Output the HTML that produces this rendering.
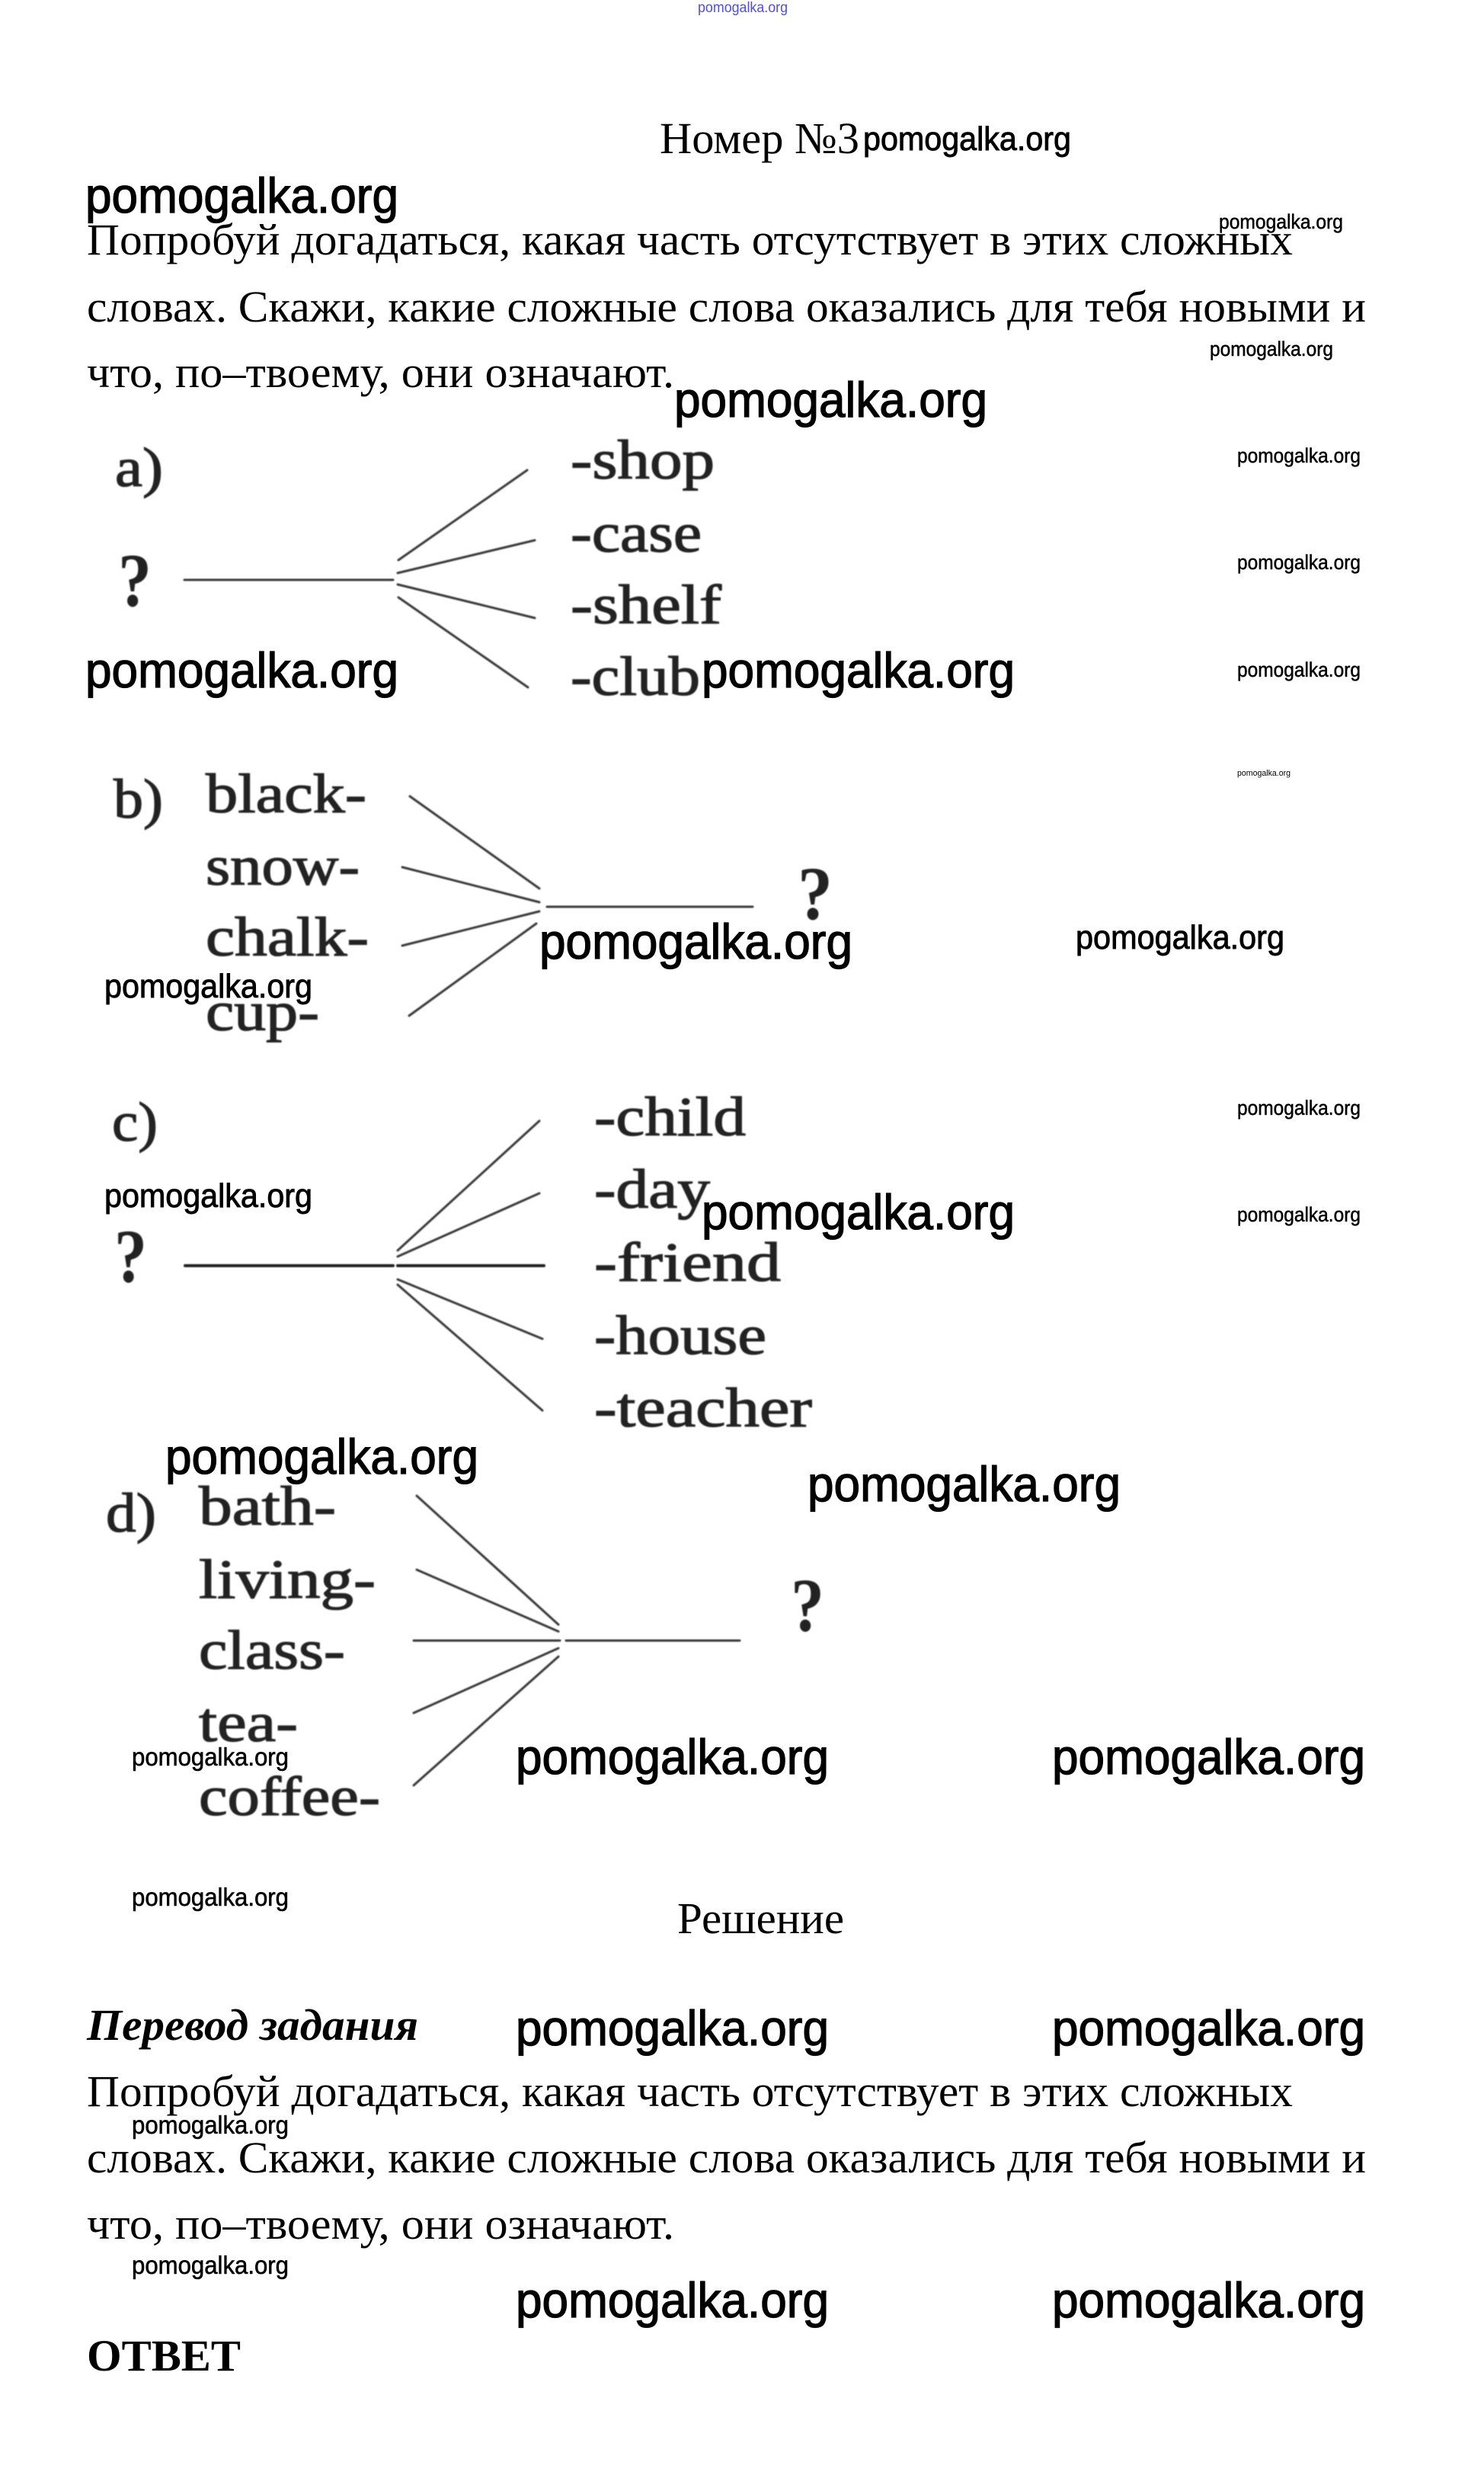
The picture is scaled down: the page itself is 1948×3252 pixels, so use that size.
<!DOCTYPE html>
<html lang="ru">
<head>
<meta charset="utf-8">
<title>Номер №3</title>
<style>
html,body{margin:0;padding:0;background:#fff;width:1948px;height:3252px;overflow:hidden}
svg{display:block}
.s{font-family:"Liberation Serif",serif;font-size:58px;fill:#000}
.w{font-family:"Liberation Sans",sans-serif;fill:#000;stroke:#000}
.b{font-size:65px;stroke-width:1.3}
.m{font-size:44px;stroke-width:.9}
.t{font-size:26.5px;stroke-width:.5}
.u{font-size:33px;stroke-width:.6}
.d{font-family:"Liberation Serif",serif;font-size:73px;fill:#222;stroke:#222;stroke-width:1.3}
.q{font-family:"Liberation Serif",serif;font-size:100px;font-weight:700;fill:#222}
.l line{stroke:#3a3a3a;stroke-width:3;stroke-linecap:round}
</style>
</head>
<body>
<svg xmlns="http://www.w3.org/2000/svg" width="1948" height="3252" viewBox="0 0 1948 3252">
<defs><filter id="f" x="-5%" y="-5%" width="110%" height="110%"><feGaussianBlur stdDeviation="0.8"/></filter></defs>
<rect width="1948" height="3252" fill="#fff"/>

<text x="916" y="16" font-family="Liberation Sans, sans-serif" font-size="19" fill="#5050d8" textLength="118" lengthAdjust="spacingAndGlyphs">pomogalka.org</text>

<g class="s">
<text x="866" y="201" textLength="262" lengthAdjust="spacingAndGlyphs">Номер №3</text>
<text x="114" y="334" textLength="1583" lengthAdjust="spacingAndGlyphs">Попробуй догадаться, какая часть отсутствует в этих сложных</text>
<text x="114" y="422" textLength="1679" lengthAdjust="spacingAndGlyphs">словах. Скажи, какие сложные слова оказались для тебя новыми и</text>
<text x="114" y="508" textLength="771" lengthAdjust="spacingAndGlyphs">что, по–твоему, они означают.</text>
<text x="889" y="2537" textLength="219" lengthAdjust="spacingAndGlyphs">Решение</text>
<text x="114" y="2677" textLength="435" lengthAdjust="spacingAndGlyphs" font-weight="700" font-style="italic">Перевод задания</text>
<text x="114" y="2764" textLength="1583" lengthAdjust="spacingAndGlyphs">Попробуй догадаться, какая часть отсутствует в этих сложных</text>
<text x="114" y="2851" textLength="1679" lengthAdjust="spacingAndGlyphs">словах. Скажи, какие сложные слова оказались для тебя новыми и</text>
<text x="114" y="2938" textLength="771" lengthAdjust="spacingAndGlyphs">что, по–твоему, они означают.</text>
<text x="114" y="3111" textLength="202" lengthAdjust="spacingAndGlyphs" font-weight="700">ОТВЕТ</text>
</g>

<g filter="url(#f)">
<g class="l">
<line x1="242" y1="761" x2="516" y2="761"/>
<line x1="523" y1="735" x2="692" y2="617"/>
<line x1="522" y1="752" x2="702" y2="709"/>
<line x1="522" y1="767" x2="702" y2="811"/>
<line x1="523" y1="784" x2="693" y2="902"/>

<line x1="538" y1="1045" x2="708" y2="1166"/>
<line x1="528" y1="1138" x2="708" y2="1184"/>
<line x1="528" y1="1241" x2="708" y2="1196"/>
<line x1="537" y1="1333" x2="704" y2="1212"/>
<line x1="718" y1="1190" x2="988" y2="1190"/>

<line x1="243" y1="1661" x2="516" y2="1661" style="stroke:#222;stroke-width:4"/>
<line x1="522" y1="1661" x2="714" y2="1661" style="stroke:#222;stroke-width:4"/>
<line x1="522" y1="1641" x2="708" y2="1471"/>
<line x1="522" y1="1649" x2="708" y2="1566"/>
<line x1="522" y1="1679" x2="712" y2="1757"/>
<line x1="522" y1="1686" x2="712" y2="1851"/>

<line x1="547" y1="1963" x2="733" y2="2132"/>
<line x1="547" y1="2060" x2="733" y2="2141"/>
<line x1="543" y1="2153" x2="735" y2="2153"/>
<line x1="543" y1="2248" x2="733" y2="2163"/>
<line x1="543" y1="2343" x2="733" y2="2174"/>
<line x1="743" y1="2153" x2="971" y2="2153"/>
</g>

<g class="d">
<text x="151" y="638" textLength="63" lengthAdjust="spacingAndGlyphs">a)</text>
<text x="749" y="628" textLength="189" lengthAdjust="spacingAndGlyphs">-shop</text>
<text x="749" y="724" textLength="172" lengthAdjust="spacingAndGlyphs">-case</text>
<text x="749" y="818" textLength="198" lengthAdjust="spacingAndGlyphs">-shelf</text>
<text x="749" y="912" textLength="170" lengthAdjust="spacingAndGlyphs">-club</text>

<text x="149" y="1073" textLength="65" lengthAdjust="spacingAndGlyphs">b)</text>
<text x="270" y="1066" textLength="211" lengthAdjust="spacingAndGlyphs">black-</text>
<text x="270" y="1161" textLength="202" lengthAdjust="spacingAndGlyphs">snow-</text>
<text x="270" y="1254" textLength="214" lengthAdjust="spacingAndGlyphs">chalk-</text>
<text x="270" y="1352" textLength="149" lengthAdjust="spacingAndGlyphs">cup-</text>

<text x="147" y="1497" textLength="60" lengthAdjust="spacingAndGlyphs">c)</text>
<text x="780" y="1490" textLength="199" lengthAdjust="spacingAndGlyphs">-child</text>
<text x="780" y="1585" textLength="152" lengthAdjust="spacingAndGlyphs">-day</text>
<text x="780" y="1681" textLength="245" lengthAdjust="spacingAndGlyphs">-friend</text>
<text x="780" y="1777" textLength="226" lengthAdjust="spacingAndGlyphs">-house</text>
<text x="780" y="1872" textLength="286" lengthAdjust="spacingAndGlyphs">-teacher</text>

<text x="139" y="2010" textLength="66" lengthAdjust="spacingAndGlyphs">d)</text>
<text x="261" y="2001" textLength="180" lengthAdjust="spacingAndGlyphs">bath-</text>
<text x="261" y="2097" textLength="232" lengthAdjust="spacingAndGlyphs">living-</text>
<text x="261" y="2190" textLength="192" lengthAdjust="spacingAndGlyphs">class-</text>
<text x="261" y="2285" textLength="130" lengthAdjust="spacingAndGlyphs">tea-</text>
<text x="261" y="2382" textLength="238" lengthAdjust="spacingAndGlyphs">coffee-</text>
</g>

<g class="q">
<text x="155" y="795" textLength="44" lengthAdjust="spacingAndGlyphs">?</text>
<text x="1047" y="1206" textLength="46" lengthAdjust="spacingAndGlyphs">?</text>
<text x="150" y="1682" textLength="43" lengthAdjust="spacingAndGlyphs">?</text>
<text x="1038" y="2140" textLength="44" lengthAdjust="spacingAndGlyphs">?</text>
</g>
</g>

<g class="w b">
<text x="112" y="279" textLength="411" lengthAdjust="spacingAndGlyphs">pomogalka.org</text>
<text x="885" y="547" textLength="411" lengthAdjust="spacingAndGlyphs">pomogalka.org</text>
<text x="112" y="902" textLength="411" lengthAdjust="spacingAndGlyphs">pomogalka.org</text>
<text x="921" y="902" textLength="411" lengthAdjust="spacingAndGlyphs">pomogalka.org</text>
<text x="708" y="1258" textLength="411" lengthAdjust="spacingAndGlyphs">pomogalka.org</text>
<text x="921" y="1613" textLength="411" lengthAdjust="spacingAndGlyphs">pomogalka.org</text>
<text x="217" y="1934" textLength="411" lengthAdjust="spacingAndGlyphs">pomogalka.org</text>
<text x="1060" y="1970" textLength="411" lengthAdjust="spacingAndGlyphs">pomogalka.org</text>
<text x="677" y="2328" textLength="411" lengthAdjust="spacingAndGlyphs">pomogalka.org</text>
<text x="1381" y="2328" textLength="411" lengthAdjust="spacingAndGlyphs">pomogalka.org</text>
<text x="677" y="2684" textLength="411" lengthAdjust="spacingAndGlyphs">pomogalka.org</text>
<text x="1381" y="2684" textLength="411" lengthAdjust="spacingAndGlyphs">pomogalka.org</text>
<text x="677" y="3041" textLength="411" lengthAdjust="spacingAndGlyphs">pomogalka.org</text>
<text x="1381" y="3041" textLength="411" lengthAdjust="spacingAndGlyphs">pomogalka.org</text>
</g>

<g class="w m">
<text x="1133" y="197" textLength="273" lengthAdjust="spacingAndGlyphs">pomogalka.org</text>
<text x="1412" y="1245" textLength="274" lengthAdjust="spacingAndGlyphs">pomogalka.org</text>
<text x="137" y="1309" textLength="273" lengthAdjust="spacingAndGlyphs">pomogalka.org</text>
<text x="137" y="1584" textLength="273" lengthAdjust="spacingAndGlyphs">pomogalka.org</text>
</g>

<g class="w t">
<text x="1600" y="300" textLength="163" lengthAdjust="spacingAndGlyphs">pomogalka.org</text>
<text x="1588" y="467" textLength="162" lengthAdjust="spacingAndGlyphs">pomogalka.org</text>
<text x="1624" y="607" textLength="162" lengthAdjust="spacingAndGlyphs">pomogalka.org</text>
<text x="1624" y="747" textLength="162" lengthAdjust="spacingAndGlyphs">pomogalka.org</text>
<text x="1624" y="888" textLength="162" lengthAdjust="spacingAndGlyphs">pomogalka.org</text>
<text x="1624" y="1463" textLength="162" lengthAdjust="spacingAndGlyphs">pomogalka.org</text>
<text x="1624" y="1603" textLength="162" lengthAdjust="spacingAndGlyphs">pomogalka.org</text>
</g>

<text x="1624" y="1018" font-family="Liberation Sans, sans-serif" font-size="11" fill="#000" textLength="70" lengthAdjust="spacingAndGlyphs">pomogalka.org</text>

<g class="w u">
<text x="173" y="2317" textLength="206" lengthAdjust="spacingAndGlyphs">pomogalka.org</text>
<text x="173" y="2501" textLength="206" lengthAdjust="spacingAndGlyphs">pomogalka.org</text>
<text x="173" y="2800" textLength="206" lengthAdjust="spacingAndGlyphs">pomogalka.org</text>
<text x="173" y="2984" textLength="206" lengthAdjust="spacingAndGlyphs">pomogalka.org</text>
</g>
</svg>
</body>
</html>
